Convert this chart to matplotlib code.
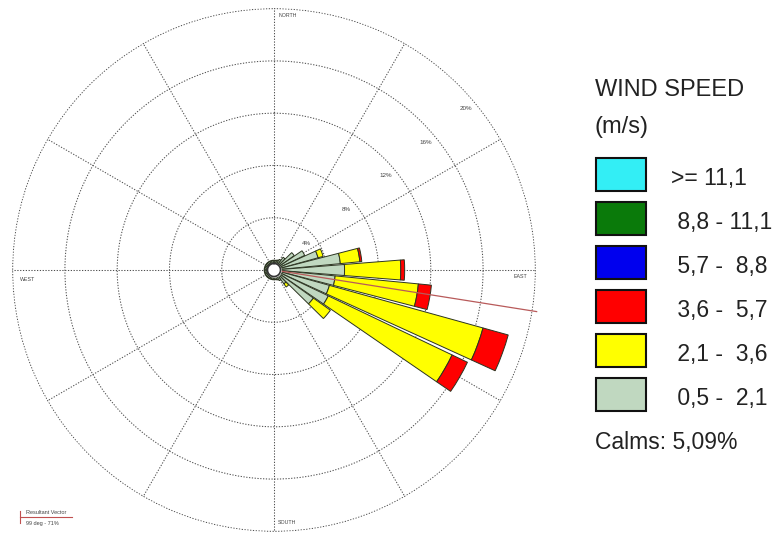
import numpy as np
import matplotlib
matplotlib.use("Agg")
import matplotlib.pyplot as plt
from matplotlib.patches import Rectangle
from matplotlib.lines import Line2D

plt.rcParams['font.family'] = ['Liberation Sans', 'DejaVu Sans']

# wind directions (deg, clockwise from north), 36 sectors
directions = np.arange(0, 360, 10)

# frequency (%) per speed class and direction
spd_05_21 = [0.75, 0.75, 0.8, 0.9, 1.2, 1.9, 2.6, 3.5, 5.1, 5.4, 4.7, 4.4,
             4.6, 3.7, 1.3, 0.9, 0.8, 0.75, 0.75, 0.75, 0.75, 0.75, 0.75, 0.75,
             0.75, 0.75, 0.75, 0.75, 0.75, 0.75, 0.75, 0.75, 0.75, 0.75, 0.75, 0.75]
spd_21_36 = [0, 0, 0, 0, 0, 0, 0, 0.4, 1.5, 4.3, 6.4, 12.2,
             10.5, 1.6, 0.3, 0, 0, 0, 0, 0, 0, 0, 0, 0,
             0, 0, 0, 0, 0, 0, 0, 0, 0, 0, 0, 0]
spd_36_57 = [0, 0, 0, 0, 0, 0, 0, 0, 0.15, 0.3, 1.0, 2.0,
             1.3, 0, 0, 0, 0, 0, 0, 0, 0, 0, 0, 0,
             0, 0, 0, 0, 0, 0, 0, 0, 0, 0, 0, 0]

class_labels = [">= 11,1", " 8,8 - 11,1", " 5,7 -  8,8", " 3,6 -  5,7", " 2,1 -  3,6", " 0,5 -  2,1"]
class_colors = ["#33eef5", "#0a7a0a", "#0000ee", "#ff0000", "#ffff00", "#c0d8c0"]

rings = [4, 8, 12, 16, 20]
calms = "5,09%"
resultant_dir = 99
resultant_pct = 71

W, H = 781, 534
fig = plt.figure(figsize=(W / 100, H / 100), dpi=100)


def px(x, y):
    return x / W, 1 - y / H


cx, cy, R = 274, 270, 262
ax = fig.add_axes([(cx - R) / W, (H - cy - R) / H, 2 * R / W, 2 * R / H], projection='polar')
ax.set_theta_zero_location('N')
ax.set_theta_direction(-1)
ax.set_ylim(0, 20.05)
ax.spines['polar'].set_visible(False)
ax.set_rgrids(rings, labels=[''] * len(rings))
ax.set_thetagrids(range(0, 360, 30), labels=[''] * 12)
ax.grid(True, color='#505050', linestyle=(0, (1.2, 1.5)), linewidth=0.75)
ax.set_facecolor('white')

theta = np.radians(directions)
width = np.radians(9)
bottom = np.zeros(len(directions))
for vals, col in [(spd_05_21, class_colors[5]), (spd_21_36, class_colors[4]), (spd_36_57, class_colors[3])]:
    vals = np.array(vals)
    mask = vals > 0
    ax.bar(theta[mask], vals[mask], width=width, bottom=bottom[mask], color=col,
           edgecolor='#2b3320', linewidth=0.7, zorder=3)
    bottom += vals

# calm circle
t = np.linspace(0, 2 * np.pi, 200)
ax.fill_between(t, 0, 0.5, color='white', zorder=5)
ax.plot(t, np.full_like(t, 0.5), color='#333333', lw=1.2, zorder=6)

# resultant vector
ax.plot([np.radians(resultant_dir)] * 2, [0, 20.35], color='#b85a5a', lw=0.9,
        zorder=4, clip_on=False)

# ring labels
for r in rings:
    ax.text(np.radians(50), r - 0.8, f"{r}%", fontsize=4.5, color='#444444',
            ha='center', va='center', zorder=2)

# compass labels
lab_kw = dict(xycoords='data', textcoords='offset points', fontsize=3.8, color='#444444')
ax.annotate('NORTH', xy=(0, 20.05), xytext=(3, -5.5), ha='left', va='center', **lab_kw)
ax.annotate('SOUTH', xy=(np.pi, 20.05), xytext=(3, 7), ha='left', va='center', **lab_kw)
ax.annotate('WEST', xy=(1.5 * np.pi, 20.05), xytext=(5.5, -7), ha='left', va='center', **lab_kw)
ax.annotate('EAST', xy=(0.5 * np.pi, 20.05), xytext=(-6.5, -5), ha='right', va='center', **lab_kw)

# resultant vector key
fig.add_artist(Line2D([px(20, 0)[0], px(72, 0)[0]], [px(0, 517)[1]] * 2, color='#c05050', lw=0.8))
fig.add_artist(Line2D([px(20, 0)[0]] * 2, [px(0, 511)[1], px(0, 523)[1]], color='#c05050', lw=0.8))
fig.text(*px(26, 512), "Resultant Vector", fontsize=4, color='#444444', va='center')
fig.text(*px(26, 524), f"{resultant_dir} deg - {resultant_pct}%", fontsize=4, color='#444444', va='center')

# speed legend
fig.text(*px(595, 90), "WIND SPEED", fontsize=17, color='#222222', va='center')
fig.text(*px(595, 127), "(m/s)", fontsize=17, color='#222222', va='center')
box_y = [158, 202, 246, 290, 334, 378]
for y, lab, col in zip(box_y, class_labels, class_colors):
    x0, y0 = px(596, y + 33)
    fig.add_artist(Rectangle((x0, y0), 50 / W, 33 / H, transform=fig.transFigure,
                             facecolor=col, edgecolor='#111111', lw=1.5))
    fig.text(*px(671, y + 21), lab, fontsize=16.5, color='#222222', va='center')
fig.text(*px(595, 443), "Calms: " + calms, fontsize=16.5, color='#222222', va='center')

fig.savefig("out.png", dpi=100, facecolor='white')
